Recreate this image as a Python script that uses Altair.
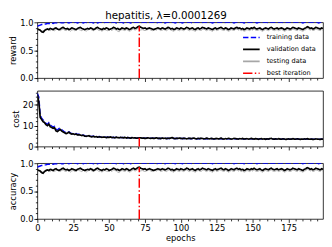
import altair as alt
import pandas as pd

# ---------------- data ----------------
epochs = list(range(200))

reward_train = [
    0.93, 0.94, 0.95, 0.96, 0.96, 0.97, 0.97, 0.98, 0.98, 0.98, 0.99, 0.98, 0.99, 0.99, 0.99, 0.99, 1.00, 0.99, 0.99, 1.00,
    0.99, 1.00, 0.99, 1.00, 1.00, 0.99, 1.00, 1.00, 0.99, 1.00, 1.00, 1.00, 0.99, 1.00, 1.00, 0.99, 1.00, 1.00, 1.00, 0.99,
    1.00, 1.00, 0.99, 1.00, 1.00, 1.00, 0.99, 1.00, 1.00, 1.00, 1.00, 0.99, 1.00, 1.00, 1.00, 0.99, 1.00, 1.00, 1.00, 1.00,
    0.99, 1.00, 1.00, 1.00, 1.00, 0.99, 1.00, 1.00, 1.00, 1.00, 1.00, 1.00, 0.99, 1.00, 1.00, 1.00, 1.00, 0.99, 1.00, 1.00,
    1.00, 1.00, 1.00, 0.99, 1.00, 1.00, 1.00, 1.00, 1.00, 0.99, 1.00, 1.00, 1.00, 1.00, 1.00, 1.00, 0.99, 1.00, 1.00, 1.00,
    1.00, 0.99, 1.00, 1.00, 1.00, 1.00, 1.00, 1.00, 0.99, 1.00, 1.00, 1.00, 1.00, 1.00, 0.99, 1.00, 1.00, 1.00, 1.00, 1.00,
    1.00, 1.00, 0.99, 1.00, 1.00, 1.00, 1.00, 1.00, 1.00, 1.00, 0.99, 1.00, 1.00, 1.00, 1.00, 1.00, 1.00, 0.99, 1.00, 1.00,
    1.00, 1.00, 1.00, 1.00, 0.99, 1.00, 1.00, 1.00, 1.00, 1.00, 1.00, 1.00, 1.00, 0.99, 1.00, 1.00, 1.00, 1.00, 1.00, 1.00,
    1.00, 0.99, 1.00, 1.00, 1.00, 1.00, 1.00, 1.00, 1.00, 1.00, 1.00, 1.00, 0.99, 1.00, 1.00, 1.00, 1.00, 1.00, 1.00, 1.00,
    1.00, 1.00, 1.00, 1.00, 1.00, 0.99, 1.00, 1.00, 1.00, 1.00, 1.00, 1.00, 1.00, 1.00, 1.00, 1.00, 0.99, 1.00, 1.00, 1.00,
]

reward_val = [
    0.88, 0.87, 0.86, 0.83, 0.82, 0.85, 0.87, 0.88, 0.87, 0.89, 0.88, 0.87, 0.89, 0.90, 0.88, 0.87, 0.88, 0.90, 0.91, 0.89,
    0.88, 0.89, 0.87, 0.88, 0.90, 0.89, 0.88, 0.87, 0.89, 0.90, 0.91, 0.89, 0.88, 0.87, 0.88, 0.89, 0.88, 0.90, 0.89, 0.87,
    0.88, 0.90, 0.91, 0.89, 0.88, 0.87, 0.89, 0.88, 0.90, 0.89, 0.87, 0.88, 0.89, 0.91, 0.90, 0.88, 0.89, 0.87, 0.88, 0.90,
    0.89, 0.88, 0.90, 0.89, 0.87, 0.88, 0.90, 0.91, 0.89, 0.90, 0.92, 0.93, 0.91, 0.90, 0.89, 0.90, 0.88, 0.89, 0.90, 0.89,
    0.88, 0.87, 0.88, 0.89, 0.90, 0.89, 0.88, 0.90, 0.89, 0.88, 0.89, 0.91, 0.90, 0.88, 0.89, 0.87, 0.88, 0.90, 0.89, 0.88,
    0.90, 0.89, 0.88, 0.89, 0.91, 0.90, 0.88, 0.89, 0.90, 0.88, 0.87, 0.89, 0.90, 0.88, 0.89, 0.91, 0.90, 0.89, 0.88, 0.90,
    0.89, 0.88, 0.87, 0.89, 0.90, 0.88, 0.89, 0.90, 0.91, 0.89, 0.88, 0.90, 0.89, 0.87, 0.88, 0.90, 0.89, 0.88, 0.90, 0.91,
    0.89, 0.90, 0.88, 0.89, 0.87, 0.88, 0.90, 0.89, 0.88, 0.90, 0.89, 0.91, 0.89, 0.88, 0.89, 0.90, 0.88, 0.87, 0.89, 0.90,
    0.89, 0.88, 0.90, 0.91, 0.89, 0.88, 0.89, 0.90, 0.88, 0.89, 0.90, 0.89, 0.87, 0.88, 0.90, 0.89, 0.88, 0.89, 0.91, 0.90,
    0.89, 0.88, 0.90, 0.89, 0.88, 0.87, 0.89, 0.90, 0.92, 0.91, 0.89, 0.90, 0.88, 0.89, 0.91, 0.90, 0.89, 0.88, 0.90, 0.89,
]

reward_test = [
    0.87, 0.86, 0.85, 0.84, 0.85, 0.86, 0.85, 0.87, 0.86, 0.85, 0.87, 0.86, 0.85, 0.87, 0.88, 0.86, 0.85, 0.87, 0.88, 0.86,
    0.85, 0.87, 0.86, 0.84, 0.86, 0.87, 0.85, 0.86, 0.88, 0.87, 0.86, 0.85, 0.87, 0.86, 0.84, 0.86, 0.87, 0.88, 0.86, 0.85,
    0.86, 0.88, 0.87, 0.85, 0.86, 0.84, 0.86, 0.87, 0.86, 0.85, 0.86, 0.87, 0.85, 0.88, 0.87, 0.86, 0.84, 0.83, 0.86, 0.87,
    0.86, 0.85, 0.87, 0.86, 0.84, 0.85, 0.87, 0.88, 0.86, 0.87, 0.89, 0.88, 0.86, 0.87, 0.86, 0.85, 0.86, 0.87, 0.88, 0.86,
    0.85, 0.86, 0.87, 0.86, 0.88, 0.87, 0.85, 0.86, 0.87, 0.86, 0.85, 0.87, 0.88, 0.86, 0.85, 0.84, 0.86, 0.87, 0.86, 0.85,
    0.87, 0.86, 0.85, 0.87, 0.88, 0.86, 0.85, 0.87, 0.86, 0.85, 0.84, 0.86, 0.87, 0.86, 0.85, 0.87, 0.88, 0.86, 0.85, 0.87,
    0.86, 0.85, 0.84, 0.86, 0.87, 0.85, 0.86, 0.88, 0.87, 0.86, 0.85, 0.87, 0.86, 0.84, 0.85, 0.87, 0.86, 0.85, 0.87, 0.88,
    0.86, 0.87, 0.85, 0.86, 0.84, 0.85, 0.87, 0.86, 0.85, 0.87, 0.86, 0.88, 0.86, 0.85, 0.86, 0.87, 0.85, 0.84, 0.86, 0.87,
    0.86, 0.85, 0.87, 0.88, 0.86, 0.85, 0.86, 0.87, 0.85, 0.86, 0.87, 0.86, 0.84, 0.85, 0.87, 0.86, 0.85, 0.86, 0.88, 0.87,
    0.86, 0.85, 0.87, 0.86, 0.85, 0.84, 0.86, 0.87, 0.89, 0.88, 0.86, 0.87, 0.85, 0.86, 0.88, 0.87, 0.86, 0.85, 0.87, 0.86,
]

cost_train = [
    25.5, 23.8, 15.2, 13.6, 12.8, 12.0, 11.2, 10.6, 11.4, 10.3, 9.8, 9.4, 9.7, 8.3, 7.9, 8.6, 8.9, 8.0, 7.5, 7.0,
    6.6, 6.8, 7.1, 6.6, 6.2, 6.3, 6.0, 6.2, 5.8, 5.9, 5.6, 5.5, 5.6, 5.2, 5.0, 5.2, 5.3, 4.9, 4.8, 5.0,
    4.7, 4.9, 4.6, 4.8, 4.7, 4.5, 4.7, 4.6, 4.4, 4.6, 4.5, 4.6, 4.4, 4.5, 4.3, 4.5, 4.4, 4.3, 4.4, 4.3,
    4.3, 4.4, 4.2, 4.3, 4.2, 4.1, 4.3, 4.2, 4.2, 4.1, 4.1, 4.0, 4.2, 4.1, 4.1, 4.0, 4.1, 4.2, 4.0, 4.0,
    4.1, 4.0, 4.0, 4.1, 3.9, 4.0, 3.9, 4.1, 4.0, 4.0, 3.9, 4.0, 3.9, 4.0, 4.1, 3.9, 3.9, 4.0, 3.9, 4.0,
    3.9, 3.9, 4.0, 3.9, 3.8, 3.9, 3.9, 3.8, 3.9, 4.0, 3.8, 3.8, 3.9, 3.8, 3.9, 3.9, 3.8, 3.8, 3.9, 3.8,
    3.8, 3.9, 3.8, 3.7, 3.8, 3.8, 3.7, 3.8, 3.9, 3.7, 3.7, 3.8, 3.7, 3.8, 3.8, 3.7, 3.7, 3.8, 3.8, 3.7,
    3.7, 3.8, 3.7, 3.8, 3.6, 3.7, 3.7, 3.6, 3.7, 3.8, 3.7, 3.6, 3.7, 3.7, 3.6, 3.7, 3.7, 3.6, 3.7, 3.6,
    3.7, 3.6, 3.7, 3.8, 3.6, 3.6, 3.7, 3.6, 3.7, 3.6, 3.6, 3.7, 3.6, 3.5, 3.6, 3.7, 3.5, 3.6, 3.7, 3.6,
    3.6, 3.7, 3.6, 3.5, 3.6, 3.5, 3.6, 3.6, 3.7, 3.6, 3.5, 3.6, 3.5, 3.5, 3.6, 3.6, 3.5, 3.5, 3.6, 3.5,
]

cost_val = [
    25.0, 21.5, 14.0, 13.0, 12.0, 11.5, 10.5, 10.0, 10.8, 9.5, 9.2, 8.8, 9.0, 7.5, 7.2, 7.8, 8.2, 7.4, 7.0, 6.6,
    6.2, 6.5, 6.9, 6.3, 6.0, 6.1, 5.8, 6.0, 5.6, 5.7, 5.5, 5.3, 5.4, 5.0, 4.9, 5.1, 5.2, 4.8, 4.7, 4.9,
    4.6, 4.8, 4.5, 4.7, 4.6, 4.4, 4.6, 4.5, 4.3, 4.5, 4.4, 4.6, 4.3, 4.4, 4.2, 4.5, 4.3, 4.2, 4.4, 4.3,
    4.2, 4.4, 4.1, 4.3, 4.2, 4.0, 4.3, 4.1, 4.2, 4.0, 4.1, 4.2, 4.2, 4.0, 4.1, 3.9, 4.0, 4.2, 4.0, 3.9,
    4.1, 3.9, 4.0, 4.2, 3.9, 4.0, 3.8, 4.1, 3.9, 4.0, 3.8, 4.0, 3.9, 4.1, 4.3, 3.9, 3.8, 4.0, 3.9, 4.1,
    3.9, 3.8, 4.0, 3.9, 3.7, 3.9, 4.0, 3.8, 3.9, 4.1, 3.8, 3.7, 3.9, 3.8, 4.0, 3.9, 3.7, 3.8, 4.0, 3.8,
    3.7, 3.9, 3.8, 3.6, 3.8, 3.9, 3.7, 3.8, 4.0, 3.7, 3.6, 3.8, 3.7, 3.9, 3.8, 3.6, 3.7, 3.9, 3.8, 3.7,
    3.6, 3.8, 3.7, 3.9, 3.6, 3.7, 3.8, 3.6, 3.7, 3.9, 3.7, 3.6, 3.8, 3.7, 3.5, 3.7, 3.8, 3.6, 3.7, 3.5,
    3.7, 3.6, 3.8, 3.9, 3.6, 3.5, 3.7, 3.6, 3.8, 3.6, 3.5, 3.7, 3.6, 3.4, 3.6, 3.7, 3.5, 3.6, 3.8, 3.6,
    3.5, 3.7, 3.6, 3.4, 3.6, 3.5, 3.7, 3.6, 3.8, 3.6, 3.5, 3.6, 3.4, 3.5, 3.7, 3.6, 3.5, 3.4, 3.6, 3.5,
]

cost_test = [
    24.6, 22.0, 14.5, 13.2, 12.4, 11.8, 10.8, 10.2, 10.9, 9.8, 9.4, 9.0, 9.3, 7.8, 7.5, 8.0, 8.5, 7.6, 7.2, 6.8,
    6.4, 6.7, 7.0, 6.5, 6.1, 6.3, 5.9, 6.1, 5.7, 5.9, 5.6, 5.4, 5.6, 5.1, 5.0, 5.3, 5.3, 4.9, 4.8, 5.0,
    4.7, 4.9, 4.6, 4.8, 4.7, 4.5, 4.7, 4.6, 4.4, 4.6, 4.5, 4.7, 4.4, 4.5, 4.3, 4.6, 4.4, 4.3, 4.5, 4.4,
    4.3, 4.5, 4.2, 4.4, 4.3, 4.1, 4.4, 4.2, 4.3, 4.1, 4.2, 4.0, 4.3, 4.1, 4.2, 4.0, 4.1, 4.3, 4.1, 4.0,
    4.2, 4.0, 4.1, 4.3, 4.0, 4.1, 3.9, 4.2, 4.0, 4.1, 3.9, 4.1, 4.0, 4.2, 4.4, 4.0, 3.9, 4.1, 4.0, 4.2,
    4.0, 3.9, 4.1, 4.0, 3.8, 4.0, 4.1, 3.9, 4.0, 4.2, 3.9, 3.8, 4.0, 3.9, 4.1, 4.0, 3.8, 3.9, 4.1, 3.9,
    3.8, 4.0, 3.9, 3.7, 3.9, 4.0, 3.8, 3.9, 4.1, 3.8, 3.7, 3.9, 3.8, 4.0, 3.9, 3.7, 3.8, 4.0, 3.9, 3.8,
    3.7, 3.9, 3.8, 4.0, 3.7, 3.8, 3.9, 3.7, 3.8, 4.0, 3.8, 3.7, 3.9, 3.8, 3.6, 3.8, 3.9, 3.7, 3.8, 3.6,
    3.8, 3.7, 3.9, 4.0, 3.7, 3.6, 3.8, 3.7, 3.9, 3.7, 3.6, 3.8, 3.7, 3.5, 3.7, 3.8, 3.6, 3.7, 3.9, 3.7,
    3.6, 3.8, 3.7, 3.5, 3.7, 3.6, 3.8, 3.7, 3.9, 3.7, 3.6, 3.7, 3.5, 3.6, 3.8, 3.7, 3.6, 3.5, 3.7, 3.6,
]

# accuracy curves coincide with the reward curves in the reference
acc_train = reward_train
acc_val = reward_val
acc_test = reward_test

best_epoch = 71
title_text = "hepatitis, λ=0.0001269"

SERIES = ["training data", "validation data", "testing data", "best iteration"]

# ---------------- styles ----------------
COLORS = ["#0000ff", "#000000", "#a6a6a6", "#ff0000"]
DASHES = [[5.5, 2.4], [1, 0], [1, 0], [9.6, 2.4, 1.5, 2.4]]
WIDTHS = {"training data": 1.5, "validation data": 1.7, "testing data": 0.9, "best iteration": 1.5}
FONT = "DejaVu Sans"
FS = 8.5
W, H = 292, 57


def cond(test, yes, no):
    return {"condition": {"test": test, "value": yes}, "value": no}


def panel(tr, va, te, ytitle, ydom, ystep, ymajor, yfmt, show_x, show_legend):
    frames = []
    for name, vals in (("training data", tr), ("testing data", te), ("validation data", va)):
        frames.append(pd.DataFrame({"epoch": epochs, "value": vals, "series": name}))
    best_df = pd.DataFrame({"epoch": [best_epoch], "lo": [ydom[0]], "value": [va[best_epoch]],
                            "series": ["best iteration"]})

    if show_legend:
        legend = alt.Legend(
            orient="none", legendX=209, legendY=10, title=None,
            symbolType="M-1,0H3", symbolSize=72, symbolStrokeWidth=1.7,
            labelFontSize=6.7, labelFont=FONT,
            labelColor="black", labelOffset=14.5, rowPadding=2.2,
        )
    else:
        legend = None

    color = alt.Color("series:N", scale=alt.Scale(domain=SERIES, range=COLORS), legend=legend)
    dash = alt.StrokeDash("series:N", scale=alt.Scale(domain=SERIES, range=DASHES), legend=legend)

    xvals = list(range(0, 200, 5))
    xtest = "datum.value % 25 === 0"
    if show_x:
        xaxis = alt.Axis(values=xvals, tickSize=cond(xtest, 3.5, 2),
                         labelExpr=f"{xtest} ? datum.label : ''",
                         title="epochs", labelOverlap=False, labelFlush=False,
                         labelPadding=1, titlePadding=2)
    else:
        xaxis = alt.Axis(values=xvals, tickSize=cond(xtest, 3.5, 2),
                         labels=False, title=None)
    x = alt.X("epoch:Q", scale=alt.Scale(domain=[0, 199], nice=False, zero=False), axis=xaxis)

    yscale = alt.Scale(domain=ydom, nice=False, zero=False)
    nmaj = int(ydom[1] // ymajor)
    major_vals = [round(i * ymajor, 3) for i in range(nmaj + 1)]
    nmin = int(ydom[1] // ystep + 1e-9)
    minor_vals = [round(i * ystep, 3) for i in range(nmin + 1)]

    major_axis = alt.Axis(values=major_vals, format=yfmt, tickSize=3.5, title=ytitle,
                          titleFontWeight="normal", orient="left",
                          labelOverlap=False, labelFlush=False,
                          labelPadding=1, titlePadding=2)
    minor_axis = alt.Axis(values=minor_vals, tickSize=2, labels=False, title=None,
                          orient="left", grid=False, domain=False)

    layers = []
    for i, f in enumerate(frames):
        s = f["series"].iloc[0]
        if i == 0:
            y = alt.Y("value:Q", scale=yscale, axis=major_axis)
        else:
            y = alt.Y("value:Q", scale=yscale, axis=None)
        layers.append(alt.Chart(f).mark_line(strokeWidth=WIDTHS[s], clip=True)
                      .encode(x=x, y=y, color=color, strokeDash=dash))
    layers.append(alt.Chart(best_df).mark_rule(strokeWidth=WIDTHS["best iteration"])
                  .encode(x=x, y=alt.Y("lo:Q", scale=yscale, axis=minor_axis),
                          y2=alt.Y2("value:Q"), color=color, strokeDash=dash))
    return (alt.layer(*layers)
            .resolve_scale(y="shared")
            .resolve_axis(y="independent")
            .properties(width=W, height=H))


top = panel(reward_train, reward_val, reward_test, "reward", [0, 1.0], 0.1, 0.5, ".1f", False, True)
mid = panel(cost_train, cost_val, cost_test, "cost", [0, 26.8], 2, 10, "d", False, False)
bot = panel(acc_train, acc_val, acc_test, "accuracy", [0, 1.0], 0.1, 0.5, ".1f", True, False)

chart = (
    alt.vconcat(top, mid, bot, spacing=7,
                title=alt.Title(title_text, anchor="middle", font=FONT, fontSize=10.5,
                                fontWeight="normal", color="black", offset=-3.5))
    .resolve_scale(color="independent", strokeDash="independent")
    .properties(padding=0, background="white")
    .configure_view(stroke="black", strokeWidth=0.8)
    .configure_axis(domain=False, grid=False, tickColor="black", tickWidth=0.8,
                    labelColor="black", titleColor="black", labelFont=FONT, titleFont=FONT,
                    labelFontSize=FS, titleFontSize=FS, titleFontWeight="normal")
)

chart.save("out.html", embed_options={"renderer": "svg", "actions": False})
